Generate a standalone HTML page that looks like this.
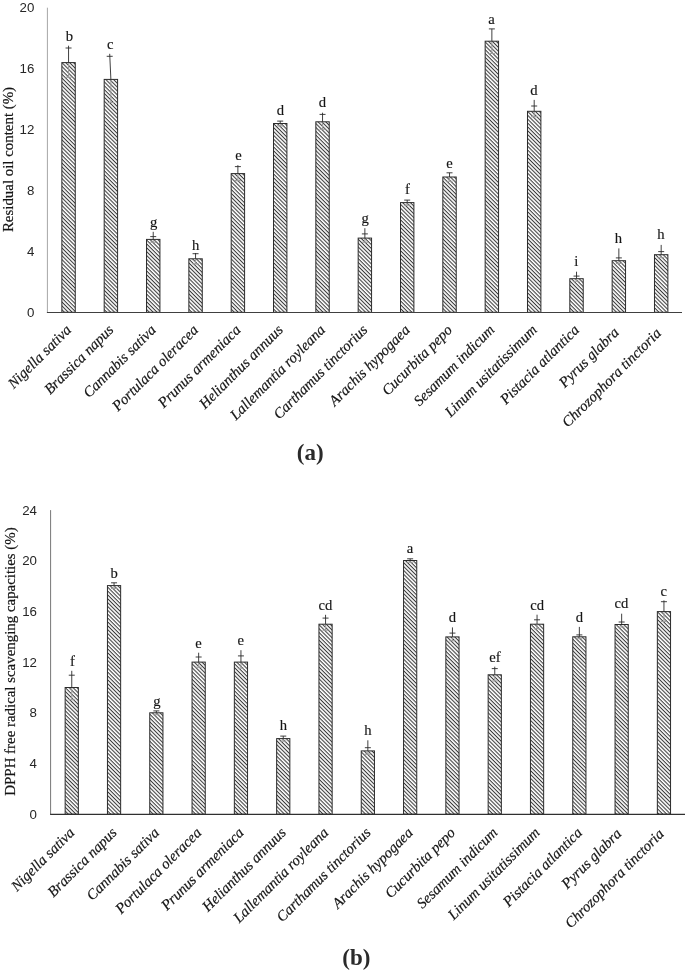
<!DOCTYPE html>
<html lang="en"><head><meta charset="utf-8"><title>Figure</title>
<style>html,body{margin:0;padding:0;background:#fff}body{width:685px;height:972px;overflow:hidden}svg{display:block}</style>
</head><body>
<svg width="685" height="972" viewBox="0 0 685 972">
<defs><pattern id="hatch" width="2.73" height="2.73" patternUnits="userSpaceOnUse" patternTransform="rotate(45)"><rect width="2.73" height="2.73" fill="#fff"/><rect x="0" y="0" width="2.73" height="1.05" fill="#3a3a3a"/></pattern></defs>
<rect width="685" height="972" fill="#fff"/>
<text x="34.3" y="316.85" text-anchor="end" font-family='"Liberation Sans", sans-serif' font-size="13.3" fill="#262626">0</text>
<text x="34.3" y="255.93" text-anchor="end" font-family='"Liberation Sans", sans-serif' font-size="13.3" fill="#262626">4</text>
<text x="34.3" y="195.01" text-anchor="end" font-family='"Liberation Sans", sans-serif' font-size="13.3" fill="#262626">8</text>
<text x="34.3" y="134.09" text-anchor="end" font-family='"Liberation Sans", sans-serif' font-size="13.3" fill="#262626">12</text>
<text x="34.3" y="73.17" text-anchor="end" font-family='"Liberation Sans", sans-serif' font-size="13.3" fill="#262626">16</text>
<text x="34.3" y="12.25" text-anchor="end" font-family='"Liberation Sans", sans-serif' font-size="13.3" fill="#262626">20</text>
<text transform="translate(12.6,159.5) rotate(-90)" text-anchor="middle" font-family='"Liberation Serif", serif' font-size="14.9" fill="#151515" stroke="#151515" stroke-width="0.2">Residual oil content (%)</text>
<rect x="61.86" y="62.60" width="13.4" height="249.70" fill="url(#hatch)" stroke="#2b2b2b" stroke-width="1"/>
<path d="M68.56 63.20V77.20M65.56 77.20h6" stroke="#9c9c9c" stroke-opacity="0.95" stroke-width="1.1" fill="none"/>
<path d="M68.56 62.60L68.56 45.70M65.56 48.00h6" stroke="#2b2b2b" stroke-width="0.9" fill="none"/>
<text x="69.40" y="40.70" text-anchor="middle" font-family='"Liberation Serif", serif' font-size="14.67" fill="#151515" stroke="#151515" stroke-width="0.15">b</text>
<text transform="translate(72.06,330.80) rotate(-45)" text-anchor="end" font-family='"Liberation Serif", serif' font-style="italic" font-size="14.8" fill="#151515" stroke="#151515" stroke-width="0.2">Nigella sativa</text>
<rect x="104.19" y="79.40" width="13.4" height="232.90" fill="url(#hatch)" stroke="#2b2b2b" stroke-width="1"/>
<path d="M110.89 80.00V102.50M107.89 102.50h6" stroke="#9c9c9c" stroke-opacity="0.95" stroke-width="1.1" fill="none"/>
<path d="M110.89 79.40L109.69 53.80M106.69 56.30h6" stroke="#2b2b2b" stroke-width="0.9" fill="none"/>
<text x="110.20" y="48.50" text-anchor="middle" font-family='"Liberation Serif", serif' font-size="14.67" fill="#151515" stroke="#151515" stroke-width="0.15">c</text>
<text transform="translate(114.39,330.80) rotate(-45)" text-anchor="end" font-family='"Liberation Serif", serif' font-style="italic" font-size="14.8" fill="#151515" stroke="#151515" stroke-width="0.2">Brassica napus</text>
<rect x="146.53" y="239.40" width="13.4" height="72.90" fill="url(#hatch)" stroke="#2b2b2b" stroke-width="1"/>
<path d="M153.22 240.00V242.20M150.22 242.20h6" stroke="#9c9c9c" stroke-opacity="0.95" stroke-width="1.1" fill="none"/>
<path d="M153.22 239.40L153.22 231.80M150.22 236.60h6" stroke="#2b2b2b" stroke-width="0.9" fill="none"/>
<text x="153.60" y="227.30" text-anchor="middle" font-family='"Liberation Serif", serif' font-size="14.67" fill="#151515" stroke="#151515" stroke-width="0.15">g</text>
<text transform="translate(156.72,330.80) rotate(-45)" text-anchor="end" font-family='"Liberation Serif", serif' font-style="italic" font-size="14.8" fill="#151515" stroke="#151515" stroke-width="0.2">Cannabis sativa</text>
<rect x="188.86" y="258.80" width="13.4" height="53.50" fill="url(#hatch)" stroke="#2b2b2b" stroke-width="1"/>
<path d="M195.56 259.40V263.90M192.56 263.90h6" stroke="#9c9c9c" stroke-opacity="0.95" stroke-width="1.1" fill="none"/>
<path d="M195.56 258.80L195.56 253.00M192.56 253.70h6" stroke="#2b2b2b" stroke-width="0.9" fill="none"/>
<text x="195.70" y="249.70" text-anchor="middle" font-family='"Liberation Serif", serif' font-size="14.67" fill="#151515" stroke="#151515" stroke-width="0.15">h</text>
<text transform="translate(199.06,330.80) rotate(-45)" text-anchor="end" font-family='"Liberation Serif", serif' font-style="italic" font-size="14.8" fill="#151515" stroke="#151515" stroke-width="0.2">Portulaca oleracea</text>
<rect x="231.19" y="173.60" width="13.4" height="138.70" fill="url(#hatch)" stroke="#2b2b2b" stroke-width="1"/>
<path d="M237.88 174.20V180.60M234.88 180.60h6" stroke="#9c9c9c" stroke-opacity="0.95" stroke-width="1.1" fill="none"/>
<path d="M237.88 173.60L237.88 165.20M234.88 166.60h6" stroke="#2b2b2b" stroke-width="0.9" fill="none"/>
<text x="238.40" y="159.90" text-anchor="middle" font-family='"Liberation Serif", serif' font-size="14.67" fill="#151515" stroke="#151515" stroke-width="0.15">e</text>
<text transform="translate(241.38,330.80) rotate(-45)" text-anchor="end" font-family='"Liberation Serif", serif' font-style="italic" font-size="14.8" fill="#151515" stroke="#151515" stroke-width="0.2">Prunus armeniaca</text>
<rect x="273.51" y="123.50" width="13.4" height="188.80" fill="url(#hatch)" stroke="#2b2b2b" stroke-width="1"/>
<path d="M280.21 124.10V125.90M277.21 125.90h6" stroke="#9c9c9c" stroke-opacity="0.95" stroke-width="1.1" fill="none"/>
<path d="M280.21 123.50L280.21 121.10M277.21 121.10h6" stroke="#2b2b2b" stroke-width="0.9" fill="none"/>
<text x="280.40" y="114.80" text-anchor="middle" font-family='"Liberation Serif", serif' font-size="14.67" fill="#151515" stroke="#151515" stroke-width="0.15">d</text>
<text transform="translate(283.71,330.80) rotate(-45)" text-anchor="end" font-family='"Liberation Serif", serif' font-style="italic" font-size="14.8" fill="#151515" stroke="#151515" stroke-width="0.2">Helianthus annuus</text>
<rect x="315.84" y="121.80" width="13.4" height="190.50" fill="url(#hatch)" stroke="#2b2b2b" stroke-width="1"/>
<path d="M322.54 122.40V129.20M319.54 129.20h6" stroke="#9c9c9c" stroke-opacity="0.95" stroke-width="1.1" fill="none"/>
<path d="M322.54 121.80L322.54 112.70M319.54 114.40h6" stroke="#2b2b2b" stroke-width="0.9" fill="none"/>
<text x="322.50" y="107.10" text-anchor="middle" font-family='"Liberation Serif", serif' font-size="14.67" fill="#151515" stroke="#151515" stroke-width="0.15">d</text>
<text transform="translate(326.04,330.80) rotate(-45)" text-anchor="end" font-family='"Liberation Serif", serif' font-style="italic" font-size="14.8" fill="#151515" stroke="#151515" stroke-width="0.2">Lallemantia royleana</text>
<rect x="358.17" y="238.10" width="13.4" height="74.20" fill="url(#hatch)" stroke="#2b2b2b" stroke-width="1"/>
<path d="M364.87 238.70V242.30M361.87 242.30h6" stroke="#9c9c9c" stroke-opacity="0.95" stroke-width="1.1" fill="none"/>
<path d="M364.87 238.10L364.87 228.20M361.87 233.90h6" stroke="#2b2b2b" stroke-width="0.9" fill="none"/>
<text x="365.20" y="222.90" text-anchor="middle" font-family='"Liberation Serif", serif' font-size="14.67" fill="#151515" stroke="#151515" stroke-width="0.15">g</text>
<text transform="translate(368.37,330.80) rotate(-45)" text-anchor="end" font-family='"Liberation Serif", serif' font-style="italic" font-size="14.8" fill="#151515" stroke="#151515" stroke-width="0.2">Carthamus tinctorius</text>
<rect x="400.50" y="202.60" width="13.4" height="109.70" fill="url(#hatch)" stroke="#2b2b2b" stroke-width="1"/>
<path d="M407.20 203.20V205.10M404.20 205.10h6" stroke="#9c9c9c" stroke-opacity="0.95" stroke-width="1.1" fill="none"/>
<path d="M407.20 202.60L407.20 200.10M404.20 200.10h6" stroke="#2b2b2b" stroke-width="0.9" fill="none"/>
<text x="407.40" y="193.70" text-anchor="middle" font-family='"Liberation Serif", serif' font-size="14.67" fill="#151515" stroke="#151515" stroke-width="0.15">f</text>
<text transform="translate(410.70,330.80) rotate(-45)" text-anchor="end" font-family='"Liberation Serif", serif' font-style="italic" font-size="14.8" fill="#151515" stroke="#151515" stroke-width="0.2">Arachis hypogaea</text>
<rect x="442.83" y="177.00" width="13.4" height="135.30" fill="url(#hatch)" stroke="#2b2b2b" stroke-width="1"/>
<path d="M449.53 177.60V181.20M446.53 181.20h6" stroke="#9c9c9c" stroke-opacity="0.95" stroke-width="1.1" fill="none"/>
<path d="M449.53 177.00L449.53 172.80M446.53 172.80h6" stroke="#2b2b2b" stroke-width="0.9" fill="none"/>
<text x="449.50" y="168.40" text-anchor="middle" font-family='"Liberation Serif", serif' font-size="14.67" fill="#151515" stroke="#151515" stroke-width="0.15">e</text>
<text transform="translate(453.03,330.80) rotate(-45)" text-anchor="end" font-family='"Liberation Serif", serif' font-style="italic" font-size="14.8" fill="#151515" stroke="#151515" stroke-width="0.2">Cucurbita pepo</text>
<rect x="485.16" y="41.20" width="13.4" height="271.10" fill="url(#hatch)" stroke="#2b2b2b" stroke-width="1"/>
<path d="M491.86 41.80V53.50M488.86 53.50h6" stroke="#9c9c9c" stroke-opacity="0.95" stroke-width="1.1" fill="none"/>
<path d="M491.86 41.20L491.86 28.90M488.86 28.90h6" stroke="#2b2b2b" stroke-width="0.9" fill="none"/>
<text x="491.50" y="24.00" text-anchor="middle" font-family='"Liberation Serif", serif' font-size="14.67" fill="#151515" stroke="#151515" stroke-width="0.15">a</text>
<text transform="translate(495.36,330.80) rotate(-45)" text-anchor="end" font-family='"Liberation Serif", serif' font-style="italic" font-size="14.8" fill="#151515" stroke="#151515" stroke-width="0.2">Sesamum indicum</text>
<rect x="527.49" y="111.30" width="13.4" height="201.00" fill="url(#hatch)" stroke="#2b2b2b" stroke-width="1"/>
<path d="M534.19 111.90V116.60M531.19 116.60h6" stroke="#9c9c9c" stroke-opacity="0.95" stroke-width="1.1" fill="none"/>
<path d="M534.19 111.30L534.19 99.90M531.19 106.00h6" stroke="#2b2b2b" stroke-width="0.9" fill="none"/>
<text x="533.90" y="94.60" text-anchor="middle" font-family='"Liberation Serif", serif' font-size="14.67" fill="#151515" stroke="#151515" stroke-width="0.15">d</text>
<text transform="translate(537.69,330.80) rotate(-45)" text-anchor="end" font-family='"Liberation Serif", serif' font-style="italic" font-size="14.8" fill="#151515" stroke="#151515" stroke-width="0.2">Linum usitatissimum</text>
<rect x="569.82" y="278.70" width="13.4" height="33.60" fill="url(#hatch)" stroke="#2b2b2b" stroke-width="1"/>
<path d="M576.52 279.30V281.30M573.52 281.30h6" stroke="#9c9c9c" stroke-opacity="0.95" stroke-width="1.1" fill="none"/>
<path d="M576.52 278.70L576.52 271.70M573.52 276.10h6" stroke="#2b2b2b" stroke-width="0.9" fill="none"/>
<text x="576.30" y="266.30" text-anchor="middle" font-family='"Liberation Serif", serif' font-size="14.67" fill="#151515" stroke="#151515" stroke-width="0.15">i</text>
<text transform="translate(580.02,330.80) rotate(-45)" text-anchor="end" font-family='"Liberation Serif", serif' font-style="italic" font-size="14.8" fill="#151515" stroke="#151515" stroke-width="0.2">Pistacia atlantica</text>
<rect x="612.15" y="260.70" width="13.4" height="51.60" fill="url(#hatch)" stroke="#2b2b2b" stroke-width="1"/>
<path d="M618.85 261.30V263.50M615.85 263.50h6" stroke="#9c9c9c" stroke-opacity="0.95" stroke-width="1.1" fill="none"/>
<path d="M618.85 260.70L618.85 248.40M615.85 257.90h6" stroke="#2b2b2b" stroke-width="0.9" fill="none"/>
<text x="618.30" y="243.20" text-anchor="middle" font-family='"Liberation Serif", serif' font-size="14.67" fill="#151515" stroke="#151515" stroke-width="0.15">h</text>
<text transform="translate(619.75,333.20) rotate(-45)" text-anchor="end" font-family='"Liberation Serif", serif' font-style="italic" font-size="14.8" fill="#151515" stroke="#151515" stroke-width="0.2">Pyrus glabra</text>
<rect x="654.48" y="254.70" width="13.4" height="57.60" fill="url(#hatch)" stroke="#2b2b2b" stroke-width="1"/>
<path d="M661.18 255.30V257.80M658.18 257.80h6" stroke="#9c9c9c" stroke-opacity="0.95" stroke-width="1.1" fill="none"/>
<path d="M661.18 254.70L661.18 244.90M658.18 251.60h6" stroke="#2b2b2b" stroke-width="0.9" fill="none"/>
<text x="661.00" y="239.30" text-anchor="middle" font-family='"Liberation Serif", serif' font-size="14.67" fill="#151515" stroke="#151515" stroke-width="0.15">h</text>
<text transform="translate(661.88,334.00) rotate(-45)" text-anchor="end" font-family='"Liberation Serif", serif' font-style="italic" font-size="14.8" fill="#151515" stroke="#151515" stroke-width="0.2">Chrozophora tinctoria</text>
<path d="M47.4 7.70V312.3" stroke="#a6a6a6" stroke-width="1" fill="none"/>
<path d="M46.9 312.45H682" stroke="#404040" stroke-width="1.1" fill="none"/>
<text x="37.0" y="818.75" text-anchor="end" font-family='"Liberation Sans", sans-serif' font-size="13.3" fill="#262626">0</text>
<text x="37.0" y="768.07" text-anchor="end" font-family='"Liberation Sans", sans-serif' font-size="13.3" fill="#262626">4</text>
<text x="37.0" y="717.39" text-anchor="end" font-family='"Liberation Sans", sans-serif' font-size="13.3" fill="#262626">8</text>
<text x="37.0" y="666.71" text-anchor="end" font-family='"Liberation Sans", sans-serif' font-size="13.3" fill="#262626">12</text>
<text x="37.0" y="616.03" text-anchor="end" font-family='"Liberation Sans", sans-serif' font-size="13.3" fill="#262626">16</text>
<text x="37.0" y="565.35" text-anchor="end" font-family='"Liberation Sans", sans-serif' font-size="13.3" fill="#262626">20</text>
<text x="37.0" y="514.67" text-anchor="end" font-family='"Liberation Sans", sans-serif' font-size="13.3" fill="#262626">24</text>
<text transform="translate(14.9,661.5) rotate(-90)" text-anchor="middle" font-family='"Liberation Serif", serif' font-size="14.9" fill="#151515" stroke="#151515" stroke-width="0.2">DPPH free radical scavenging capacities (%)</text>
<rect x="65.15" y="687.50" width="13.2" height="126.70" fill="url(#hatch)" stroke="#2b2b2b" stroke-width="1"/>
<path d="M71.75 688.10V699.80M68.75 699.80h6" stroke="#9c9c9c" stroke-opacity="0.95" stroke-width="1.1" fill="none"/>
<path d="M71.75 687.50L71.75 670.80M68.75 675.20h6" stroke="#2b2b2b" stroke-width="0.9" fill="none"/>
<text x="72.40" y="665.70" text-anchor="middle" font-family='"Liberation Serif", serif' font-size="14.67" fill="#151515" stroke="#151515" stroke-width="0.15">f</text>
<text transform="translate(75.35,833.50) rotate(-45)" text-anchor="end" font-family='"Liberation Serif", serif' font-style="italic" font-size="14.8" fill="#151515" stroke="#151515" stroke-width="0.2">Nigella sativa</text>
<rect x="107.45" y="585.60" width="13.2" height="228.60" fill="url(#hatch)" stroke="#2b2b2b" stroke-width="1"/>
<path d="M114.05 586.20V588.40M111.05 588.40h6" stroke="#9c9c9c" stroke-opacity="0.95" stroke-width="1.1" fill="none"/>
<path d="M114.05 585.60L114.05 582.80M111.05 582.80h6" stroke="#2b2b2b" stroke-width="0.9" fill="none"/>
<text x="114.10" y="577.90" text-anchor="middle" font-family='"Liberation Serif", serif' font-size="14.67" fill="#151515" stroke="#151515" stroke-width="0.15">b</text>
<text transform="translate(117.65,833.50) rotate(-45)" text-anchor="end" font-family='"Liberation Serif", serif' font-style="italic" font-size="14.8" fill="#151515" stroke="#151515" stroke-width="0.2">Brassica napus</text>
<rect x="149.75" y="712.80" width="13.2" height="101.40" fill="url(#hatch)" stroke="#2b2b2b" stroke-width="1"/>
<path d="M156.35 713.40V714.70M153.35 714.70h6" stroke="#9c9c9c" stroke-opacity="0.95" stroke-width="1.1" fill="none"/>
<path d="M156.35 712.80L156.35 710.90M153.35 710.90h6" stroke="#2b2b2b" stroke-width="0.9" fill="none"/>
<text x="156.80" y="705.50" text-anchor="middle" font-family='"Liberation Serif", serif' font-size="14.67" fill="#151515" stroke="#151515" stroke-width="0.15">g</text>
<text transform="translate(159.95,833.50) rotate(-45)" text-anchor="end" font-family='"Liberation Serif", serif' font-style="italic" font-size="14.8" fill="#151515" stroke="#151515" stroke-width="0.2">Cannabis sativa</text>
<rect x="192.05" y="662.10" width="13.2" height="152.10" fill="url(#hatch)" stroke="#2b2b2b" stroke-width="1"/>
<path d="M198.65 662.70V667.20M195.65 667.20h6" stroke="#9c9c9c" stroke-opacity="0.95" stroke-width="1.1" fill="none"/>
<path d="M198.65 662.10L198.65 652.70M195.65 657.00h6" stroke="#2b2b2b" stroke-width="0.9" fill="none"/>
<text x="198.60" y="647.90" text-anchor="middle" font-family='"Liberation Serif", serif' font-size="14.67" fill="#151515" stroke="#151515" stroke-width="0.15">e</text>
<text transform="translate(202.25,833.50) rotate(-45)" text-anchor="end" font-family='"Liberation Serif", serif' font-style="italic" font-size="14.8" fill="#151515" stroke="#151515" stroke-width="0.2">Portulaca oleracea</text>
<rect x="234.35" y="662.10" width="13.2" height="152.10" fill="url(#hatch)" stroke="#2b2b2b" stroke-width="1"/>
<path d="M240.95 662.70V668.30M237.95 668.30h6" stroke="#9c9c9c" stroke-opacity="0.95" stroke-width="1.1" fill="none"/>
<path d="M240.95 662.10L240.95 650.20M237.95 655.90h6" stroke="#2b2b2b" stroke-width="0.9" fill="none"/>
<text x="240.70" y="645.40" text-anchor="middle" font-family='"Liberation Serif", serif' font-size="14.67" fill="#151515" stroke="#151515" stroke-width="0.15">e</text>
<text transform="translate(244.55,833.50) rotate(-45)" text-anchor="end" font-family='"Liberation Serif", serif' font-style="italic" font-size="14.8" fill="#151515" stroke="#151515" stroke-width="0.2">Prunus armeniaca</text>
<rect x="276.65" y="738.60" width="13.2" height="75.60" fill="url(#hatch)" stroke="#2b2b2b" stroke-width="1"/>
<path d="M283.25 739.20V741.10M280.25 741.10h6" stroke="#9c9c9c" stroke-opacity="0.95" stroke-width="1.1" fill="none"/>
<path d="M283.25 738.60L283.25 736.10M280.25 736.10h6" stroke="#2b2b2b" stroke-width="0.9" fill="none"/>
<text x="283.40" y="730.10" text-anchor="middle" font-family='"Liberation Serif", serif' font-size="14.67" fill="#151515" stroke="#151515" stroke-width="0.15">h</text>
<text transform="translate(286.85,833.50) rotate(-45)" text-anchor="end" font-family='"Liberation Serif", serif' font-style="italic" font-size="14.8" fill="#151515" stroke="#151515" stroke-width="0.2">Helianthus annuus</text>
<rect x="318.95" y="624.20" width="13.2" height="190.00" fill="url(#hatch)" stroke="#2b2b2b" stroke-width="1"/>
<path d="M325.55 624.80V630.30M322.55 630.30h6" stroke="#9c9c9c" stroke-opacity="0.95" stroke-width="1.1" fill="none"/>
<path d="M325.55 624.20L325.55 614.80M322.55 618.10h6" stroke="#2b2b2b" stroke-width="0.9" fill="none"/>
<text x="325.40" y="609.90" text-anchor="middle" font-family='"Liberation Serif", serif' font-size="14.67" fill="#151515" stroke="#151515" stroke-width="0.15">cd</text>
<text transform="translate(329.15,833.50) rotate(-45)" text-anchor="end" font-family='"Liberation Serif", serif' font-style="italic" font-size="14.8" fill="#151515" stroke="#151515" stroke-width="0.2">Lallemantia royleana</text>
<rect x="361.25" y="750.90" width="13.2" height="63.30" fill="url(#hatch)" stroke="#2b2b2b" stroke-width="1"/>
<path d="M367.85 751.50V754.10M364.85 754.10h6" stroke="#9c9c9c" stroke-opacity="0.95" stroke-width="1.1" fill="none"/>
<path d="M367.85 750.90L367.85 740.30M364.85 747.70h6" stroke="#2b2b2b" stroke-width="0.9" fill="none"/>
<text x="367.90" y="735.30" text-anchor="middle" font-family='"Liberation Serif", serif' font-size="14.67" fill="#151515" stroke="#151515" stroke-width="0.15">h</text>
<text transform="translate(371.45,833.50) rotate(-45)" text-anchor="end" font-family='"Liberation Serif", serif' font-style="italic" font-size="14.8" fill="#151515" stroke="#151515" stroke-width="0.2">Carthamus tinctorius</text>
<rect x="403.55" y="560.50" width="13.2" height="253.70" fill="url(#hatch)" stroke="#2b2b2b" stroke-width="1"/>
<path d="M410.15 561.10V562.20M407.15 562.20h6" stroke="#9c9c9c" stroke-opacity="0.95" stroke-width="1.1" fill="none"/>
<path d="M410.15 560.50L410.15 558.80M407.15 558.80h6" stroke="#2b2b2b" stroke-width="0.9" fill="none"/>
<text x="409.90" y="552.60" text-anchor="middle" font-family='"Liberation Serif", serif' font-size="14.67" fill="#151515" stroke="#151515" stroke-width="0.15">a</text>
<text transform="translate(413.75,833.50) rotate(-45)" text-anchor="end" font-family='"Liberation Serif", serif' font-style="italic" font-size="14.8" fill="#151515" stroke="#151515" stroke-width="0.2">Arachis hypogaea</text>
<rect x="445.85" y="636.90" width="13.2" height="177.30" fill="url(#hatch)" stroke="#2b2b2b" stroke-width="1"/>
<path d="M452.45 637.50V640.70M449.45 640.70h6" stroke="#9c9c9c" stroke-opacity="0.95" stroke-width="1.1" fill="none"/>
<path d="M452.45 636.90L452.45 627.40M449.45 633.10h6" stroke="#2b2b2b" stroke-width="0.9" fill="none"/>
<text x="452.40" y="621.70" text-anchor="middle" font-family='"Liberation Serif", serif' font-size="14.67" fill="#151515" stroke="#151515" stroke-width="0.15">d</text>
<text transform="translate(456.05,833.50) rotate(-45)" text-anchor="end" font-family='"Liberation Serif", serif' font-style="italic" font-size="14.8" fill="#151515" stroke="#151515" stroke-width="0.2">Cucurbita pepo</text>
<rect x="488.15" y="674.80" width="13.2" height="139.40" fill="url(#hatch)" stroke="#2b2b2b" stroke-width="1"/>
<path d="M494.75 675.40V681.00M491.75 681.00h6" stroke="#9c9c9c" stroke-opacity="0.95" stroke-width="1.1" fill="none"/>
<path d="M494.75 674.80L494.75 666.70M491.75 668.60h6" stroke="#2b2b2b" stroke-width="0.9" fill="none"/>
<text x="494.90" y="661.60" text-anchor="middle" font-family='"Liberation Serif", serif' font-size="14.67" fill="#151515" stroke="#151515" stroke-width="0.15">ef</text>
<text transform="translate(498.35,833.50) rotate(-45)" text-anchor="end" font-family='"Liberation Serif", serif' font-style="italic" font-size="14.8" fill="#151515" stroke="#151515" stroke-width="0.2">Sesamum indicum</text>
<rect x="530.45" y="624.20" width="13.2" height="190.00" fill="url(#hatch)" stroke="#2b2b2b" stroke-width="1"/>
<path d="M537.05 624.80V628.60M534.05 628.60h6" stroke="#9c9c9c" stroke-opacity="0.95" stroke-width="1.1" fill="none"/>
<path d="M537.05 624.20L537.05 614.70M534.05 619.80h6" stroke="#2b2b2b" stroke-width="0.9" fill="none"/>
<text x="537.20" y="609.80" text-anchor="middle" font-family='"Liberation Serif", serif' font-size="14.67" fill="#151515" stroke="#151515" stroke-width="0.15">cd</text>
<text transform="translate(540.65,833.50) rotate(-45)" text-anchor="end" font-family='"Liberation Serif", serif' font-style="italic" font-size="14.8" fill="#151515" stroke="#151515" stroke-width="0.2">Linum usitatissimum</text>
<rect x="572.75" y="636.80" width="13.2" height="177.40" fill="url(#hatch)" stroke="#2b2b2b" stroke-width="1"/>
<path d="M579.35 637.40V638.70M576.35 638.70h6" stroke="#9c9c9c" stroke-opacity="0.95" stroke-width="1.1" fill="none"/>
<path d="M579.35 636.80L579.35 626.90M576.35 634.90h6" stroke="#2b2b2b" stroke-width="0.9" fill="none"/>
<text x="579.30" y="622.00" text-anchor="middle" font-family='"Liberation Serif", serif' font-size="14.67" fill="#151515" stroke="#151515" stroke-width="0.15">d</text>
<text transform="translate(582.95,833.50) rotate(-45)" text-anchor="end" font-family='"Liberation Serif", serif' font-style="italic" font-size="14.8" fill="#151515" stroke="#151515" stroke-width="0.2">Pistacia atlantica</text>
<rect x="615.05" y="624.50" width="13.2" height="189.70" fill="url(#hatch)" stroke="#2b2b2b" stroke-width="1"/>
<path d="M621.65 625.10V627.00M618.65 627.00h6" stroke="#9c9c9c" stroke-opacity="0.95" stroke-width="1.1" fill="none"/>
<path d="M621.65 624.50L621.65 613.70M618.65 622.00h6" stroke="#2b2b2b" stroke-width="0.9" fill="none"/>
<text x="621.40" y="608.40" text-anchor="middle" font-family='"Liberation Serif", serif' font-size="14.67" fill="#151515" stroke="#151515" stroke-width="0.15">cd</text>
<text transform="translate(622.25,834.50) rotate(-45)" text-anchor="end" font-family='"Liberation Serif", serif' font-style="italic" font-size="14.8" fill="#151515" stroke="#151515" stroke-width="0.2">Pyrus glabra</text>
<rect x="657.35" y="611.60" width="13.2" height="202.60" fill="url(#hatch)" stroke="#2b2b2b" stroke-width="1"/>
<path d="M663.95 612.20V621.50M660.95 621.50h6" stroke="#9c9c9c" stroke-opacity="0.95" stroke-width="1.1" fill="none"/>
<path d="M663.95 611.60L663.95 600.40M660.95 601.70h6" stroke="#2b2b2b" stroke-width="0.9" fill="none"/>
<text x="663.70" y="595.60" text-anchor="middle" font-family='"Liberation Serif", serif' font-size="14.67" fill="#151515" stroke="#151515" stroke-width="0.15">c</text>
<text transform="translate(664.75,834.80) rotate(-45)" text-anchor="end" font-family='"Liberation Serif", serif' font-style="italic" font-size="14.8" fill="#151515" stroke="#151515" stroke-width="0.2">Chrozophora tinctoria</text>
<path d="M50.6 510.12V814.2" stroke="#777" stroke-width="1" fill="none"/>
<path d="M50.1 814.4000000000001H685" stroke="#303030" stroke-width="1.25" fill="none"/>
<text x="310.2" y="459.7" text-anchor="middle" font-family='"Liberation Serif", serif' font-weight="bold" font-size="23" fill="#2a2a2a">(a)</text>
<text x="356.3" y="964.9" text-anchor="middle" font-family='"Liberation Serif", serif' font-weight="bold" font-size="23" fill="#2a2a2a">(b)</text>
</svg>
</body></html>
